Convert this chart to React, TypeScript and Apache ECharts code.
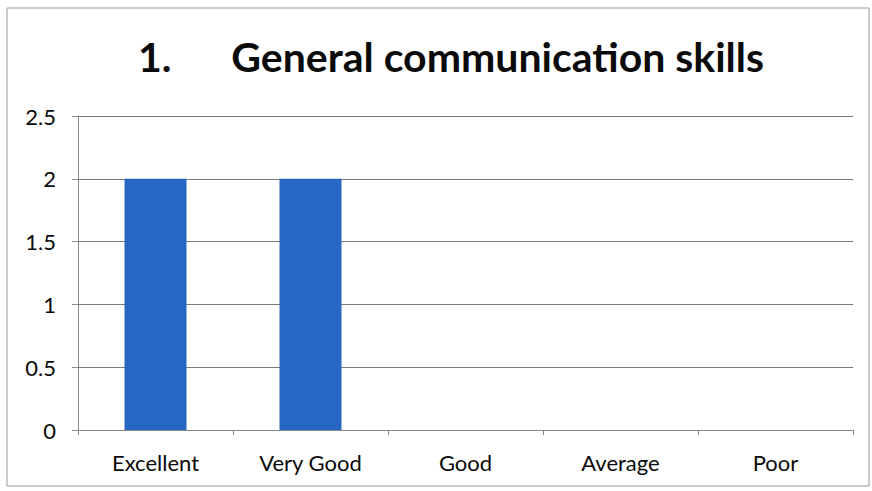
import React, { useEffect, useRef } from "react";
import * as echarts from "echarts";

const categories = ["Excellent", "Very Good", "Good", "Average", "Poor"];
const values = [2, 2, 0, 0, 0];
const titleText = "1.      General communication skills";

export default function App() {
  const ref = useRef<HTMLDivElement>(null);
  useEffect(() => {
    if (!ref.current) return;
    const chart = echarts.init(ref.current, null, { renderer: "svg" });
    chart.setOption({
      animation: false,
      backgroundColor: "#ffffff",
      title: {
        text: titleText,
        left: 446,
        textAlign: "center",
        top: 31,
        textStyle: { fontFamily: "Lato", fontWeight: "bold", fontSize: 41, color: "#0a0a0a" },
      },
      graphic: [
        {
          type: "rect",
          shape: { x: 7, y: 8, width: 862, height: 478 },
          style: { fill: "none", stroke: "#999", lineWidth: 1 },
          silent: true,
        },
      ],
      grid: { left: 78, right: 19, top: 116, bottom: 61, containLabel: false },
      xAxis: {
        type: "category",
        data: categories,
        axisLine: { lineStyle: { color: "#888", width: 1 } },
        axisTick: { show: true, length: 5, lineStyle: { color: "#888" } },
        axisLabel: { fontFamily: "Lato", fontSize: 22, color: "#0a0a0a", margin: 21 },
      },
      yAxis: {
        type: "value",
        min: 0,
        max: 2.5,
        interval: 0.5,
        axisLine: { show: true, lineStyle: { color: "#888", width: 1 } },
        axisTick: { show: true, length: 6, lineStyle: { color: "#888" } },
        splitLine: { lineStyle: { color: "#777", width: 1 } },
        axisLabel: { fontFamily: "Lato", fontSize: 22, color: "#0a0a0a", margin: 22 },
      },
      series: [
        {
          type: "bar",
          data: values,
          barWidth: "40%",
          itemStyle: { color: "#2766c2" },
        },
      ],
    });
    return () => chart.dispose();
  }, []);
  return <div ref={ref} style={{ width: 872, height: 491, position: "absolute", left: 0, top: 0 }} />;
}
